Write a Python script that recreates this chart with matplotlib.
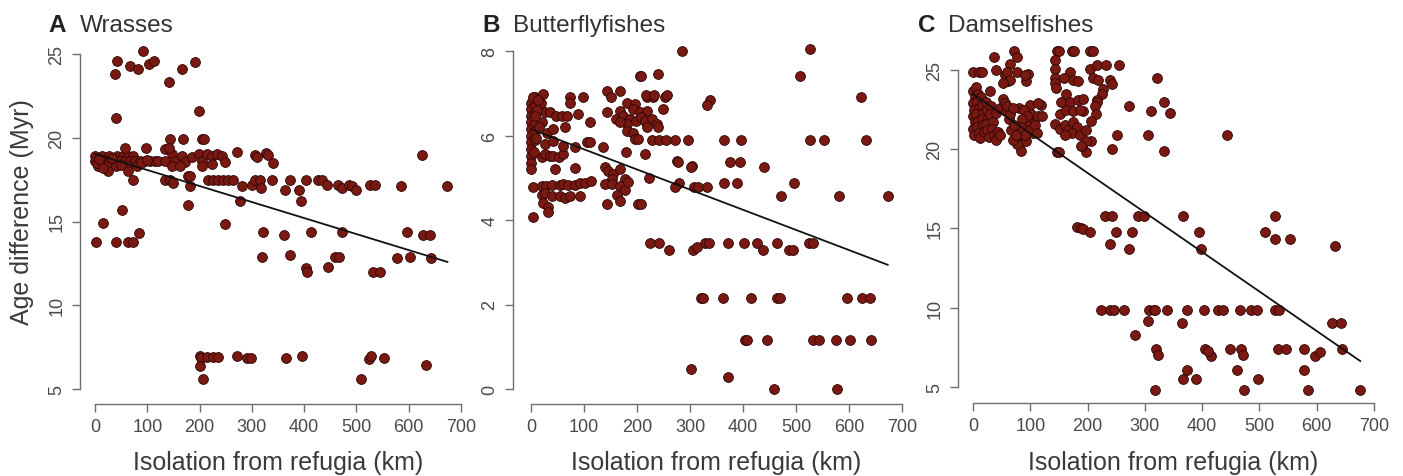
import numpy as np
import matplotlib
matplotlib.use("Agg")
import matplotlib.pyplot as plt

plt.rcParams["font.family"] = ["Liberation Sans", "DejaVu Sans"]

# ---------------------------------------------------------------------------
# Data: (isolation km, age difference Myr)
# ---------------------------------------------------------------------------

WRASSES = [
    (38, 23.8), (43, 24.6), (40, 21.2), (67, 24.3), (83, 24.1), (91, 25.2),
    (104, 24.4), (112, 24.6), (142, 23.3), (166, 24.1), (191, 24.5), (198, 21.6),
    # dense band near 0-120 km
    (0, 18.93), (13, 18.93), (26, 18.93), (42, 18.93), (54, 18.93), (64, 18.93), (73, 18.93),
    (0, 18.63), (10, 18.63), (19, 18.63), (29, 18.63), (38, 18.63), (48, 18.63), (57, 18.63),
    (67, 18.63), (76, 18.63), (86, 18.63), (96, 18.63), (105, 18.63), (115, 18.63),
    (6, 18.33), (22, 18.33), (41, 18.33), (64, 18.33), (80, 18.33), (25, 18.03), (64, 18.03),
    (57, 19.4), (97, 19.4), (3, 18.5), (8, 18.75), (16, 18.2), (33, 18.8), (50, 18.4),
    (88, 18.5), (100, 18.7), (120, 18.6),
    # cluster 130-270 km
    (134, 19.33), (147, 19.03), (134, 18.63), (153, 18.63), (166, 18.93), (172, 18.53),
    (185, 18.83), (198, 19.03), (204, 18.63), (214, 19.03), (223, 18.93), (233, 19.03),
    (242, 18.93), (249, 18.53), (271, 19.13), (147, 18.33), (163, 18.33), (204, 18.33),
    (223, 18.43), (143, 19.9), (168, 19.9), (204, 19.9), (209, 19.9), (142, 19.4),
    (306, 19.0), (309, 18.83), (328, 19.1), (331, 19.0), (341, 18.5),
    # around 17 Myr
    (73, 17.5), (134, 17.5), (143, 17.5), (149, 17.3), (178, 17.7), (182, 17.7), (181, 17.1),
    (177, 16.0), (217, 17.5), (226, 17.5), (236, 17.5), (245, 17.5), (255, 17.5), (264, 17.5),
    (277, 16.2), (282, 17.1), (300, 17.2), (306, 17.5), (315, 17.5), (318, 17.0), (338, 17.5),
    (363, 16.9), (372, 17.5), (390, 16.9), (394, 16.2), (403, 17.5), (427, 17.5), (434, 17.5),
    (443, 17.2), (465, 17.2), (472, 17.0), (485, 17.2), (492, 17.1), (499, 16.9), (526, 17.2),
    (535, 17.2), (585, 17.1), (674, 17.1), (625, 19.0),
    # 12-16 Myr
    (2, 13.75), (16, 14.9), (40, 13.8), (52, 15.7), (64, 13.8), (73, 13.8), (84, 14.3),
    (249, 14.85), (322, 14.35), (319, 12.9), (362, 14.2), (372, 13.0), (404, 12.2), (406, 12.0),
    (414, 14.35), (446, 12.3), (459, 12.9), (467, 12.9), (472, 14.35), (532, 12.0), (545, 12.0),
    (577, 12.8), (596, 14.35), (602, 12.9), (627, 14.2), (641, 14.2), (643, 12.8),
    # lowest row
    (200, 6.95), (202, 6.85), (200, 6.4), (206, 5.6), (214, 6.9), (225, 6.9), (235, 6.9),
    (272, 6.95), (290, 6.85), (298, 6.85), (365, 6.85), (395, 6.95), (508, 5.6), (525, 6.8),
    (527, 6.95), (553, 6.85), (633, 6.45),
]

BUTTERFLYFISHES = [
    # column at ~0 km
    (0, 6.78), (0, 6.63), (0, 6.47), (0, 6.31), (0, 6.15), (0, 5.99), (0, 5.84), (0, 5.68),
    (0, 5.52), (0, 5.36), (0, 5.2), (3, 4.77), (3, 4.07),
    (7, 6.9), (7, 6.7), (7, 6.5), (7, 6.3), (7, 6.1), (7, 5.9),
    (23, 6.98), (19, 6.78), (26, 6.55), (20, 6.31), (30, 6.07),
    (12, 6.6), (15, 6.2), (10, 5.95), (5, 5.6), (8, 6.45), (3, 6.9), (14, 6.85),
    (36, 6.55), (48, 6.47), (58, 6.47), (67, 6.47), (42, 6.15), (64, 6.19),
    (74, 6.9), (74, 6.78), (99, 6.9), (89, 6.5), (111, 6.31),
    (20, 5.5), (26, 5.57), (36, 5.52), (42, 5.52), (52, 5.5), (60, 5.57), (61, 5.75),
    (26, 5.8), (42, 5.88), (83, 5.72), (105, 5.85), (111, 5.85), (136, 5.72),
    (45, 5.2), (83, 5.22),
    (20, 4.8), (29, 4.8), (39, 4.83), (55, 4.83), (61, 4.85), (70, 4.83), (83, 4.83),
    (92, 4.87), (102, 4.87), (114, 4.92),
    (20, 4.6), (26, 4.65), (39, 4.56), (55, 4.56), (64, 4.52), (74, 4.56), (92, 4.56),
    (23, 4.4), (32, 4.3), (33, 4.2),
    # 140-210 km lower cluster
    (140, 5.25), (146, 5.17), (155, 5.1), (168, 5.2), (177, 4.97), (152, 4.97), (140, 4.85),
    (152, 4.85), (168, 4.8), (162, 4.58), (168, 4.46), (143, 4.38), (177, 4.7), (183, 4.9),
    (202, 4.38), (208, 4.38),
    # 140-300 km upper cluster
    (143, 7.06), (168, 7.06), (150, 6.9), (181, 6.78), (196, 6.75), (168, 6.59), (143, 6.55),
    (193, 6.63), (206, 6.55), (218, 6.59), (161, 6.39), (174, 6.47), (187, 6.39), (181, 6.27),
    (168, 6.31), (199, 6.35), (208, 6.43), (215, 6.35), (228, 6.39), (237, 6.27), (249, 6.63),
    (218, 6.19), (181, 6.11), (193, 6.07), (196, 5.91), (202, 5.91), (218, 6.9), (231, 6.9),
    (253, 6.9), (240, 6.2), (275, 5.4), (303, 5.28), (180, 5.6), (215, 5.56),
    (285, 8.0), (526, 8.05), (508, 7.42), (205, 7.42), (207, 7.42), (240, 7.45), (623, 6.92),
    (217, 6.96), (233, 6.96), (257, 6.96), (338, 6.85), (332, 6.73),
    (228, 5.9), (241, 5.9), (255, 5.9), (272, 5.9), (296, 5.9), (365, 5.9), (396, 5.9),
    (526, 5.9), (553, 5.9), (632, 5.9),
    (277, 5.38), (302, 5.26), (375, 5.37), (394, 5.38), (440, 5.26),
    (280, 4.88), (272, 4.78), (307, 4.78), (315, 4.78), (332, 4.78), (365, 4.88), (389, 4.88),
    (496, 4.88), (472, 4.57), (582, 4.57), (673, 4.57), (223, 4.99),
    (225, 3.45), (241, 3.45), (329, 3.45), (336, 3.45), (371, 3.45), (401, 3.45), (426, 3.45),
    (464, 3.45), (524, 3.45), (533, 3.45),
    (261, 3.3), (306, 3.3), (313, 3.35), (437, 3.3), (486, 3.3), (494, 3.3),
    (320, 2.15), (324, 2.15), (362, 2.15), (415, 2.15), (464, 2.15), (470, 2.15), (596, 2.15),
    (625, 2.15), (639, 2.15),
    (403, 1.15), (408, 1.15), (445, 1.15), (533, 1.15), (543, 1.15), (576, 1.15), (601, 1.15),
    (642, 1.15),
    (302, 0.47), (371, 0.29), (458, 0.0), (577, 0.0),
]

DAMSELFISHES = [
    (72, 26.2), (76, 25.8), (64, 25.4), (36, 25.85), (40, 25.0), (0, 24.85), (11, 24.85),
    (15, 24.85), (55, 24.7), (61, 24.3), (59, 24.85), (65, 24.4), (76, 24.9), (96, 24.75),
    (92, 24.3), (91, 24.7), (53, 24.2),
    (146, 26.2), (150, 26.2), (172, 26.2), (176, 26.2), (205, 26.2), (210, 26.2),
    (143, 25.6), (143, 25.05), (143, 24.5), (143, 24.2), (145, 23.85),
    (169, 24.85), (175, 24.4), (184, 24.3), (159, 24.5),
    (204, 25.05), (216, 25.3), (233, 25.3), (254, 25.3),
    (210, 24.5), (219, 24.4), (239, 24.4), (242, 24.1), (227, 23.8), (226, 23.5), (217, 23.1),
    (216, 23.0), (213, 22.7),
    (322, 24.5), (273, 22.7), (311, 22.4), (334, 23.0), (344, 22.3), (305, 20.9), (443, 20.9),
    (334, 19.9), (242, 20.0), (251, 20.9), (198, 19.8), (191, 20.2), (146, 19.8), (150, 19.8),
    (206, 20.5), (192, 22.4), (215, 22.2), (206, 21.8),
    (163, 23.5), (154, 23.0), (169, 23.0), (184, 23.1), (192, 23.2), (151, 22.2), (163, 22.5),
    (175, 22.4), (187, 22.5),
    (143, 21.6), (152, 21.3), (160, 21.5), (165, 21.2), (175, 21.7), (182, 21.4), (172, 21.0),
    (186, 20.9), (198, 21.2), (160, 20.9), (198, 20.5), (189, 20.2),
    (100, 21.6), (104, 22.0), (119, 22.8), (100, 22.8), (104, 21.0), (114, 22.9), (102, 22.2),
    (114, 22.1), (120, 22.1),
    (84, 21.2), (84, 20.4), (89, 20.9), (84, 19.9), (93, 20.5), (80, 22.6), (89, 22.5),
    (94, 22.1), (85, 21.9), (83, 21.4), (99, 21.2), (108, 21.5), (91, 20.9), (76, 20.3),
    (111, 21.0),
    # dense cluster near 0-75 km
    (0, 23.7), (3, 23.3), (0, 22.9), (2, 22.5), (0, 22.1), (3, 21.7), (0, 21.3), (2, 20.9),
    (5, 23.9), (8, 23.5), (7, 23.0), (10, 22.6), (6, 22.2), (9, 21.8), (7, 21.4), (10, 21.0),
    (12, 20.7), (14, 23.3), (16, 22.8), (18, 22.3), (15, 21.9), (17, 21.5), (19, 21.1),
    (22, 23.0), (24, 22.5), (26, 22.0), (22, 21.6), (25, 21.2), (28, 20.8), (30, 23.7),
    (32, 22.7), (30, 22.2), (35, 21.7), (33, 21.3), (36, 20.9), (40, 20.6), (40, 22.3),
    (43, 21.1), (47, 20.9), (48, 22.6), (52, 23.2), (55, 22.9), (58, 22.4), (60, 22.7),
    (62, 21.9), (65, 22.2), (70, 22.6), (66, 21.2), (72, 21.5), (70, 20.6), (75, 20.9),
    # middle
    (181, 15.1), (188, 15.0), (192, 14.97), (205, 14.8), (230, 15.8), (242, 15.8), (250, 14.8),
    (239, 14.0), (278, 14.8), (273, 13.7), (288, 15.8), (298, 15.8), (367, 15.8), (395, 14.8),
    (398, 13.7), (510, 14.8), (527, 15.8), (527, 14.35), (554, 14.35), (632, 13.9),
    (224, 9.85), (239, 9.85), (246, 9.85), (263, 9.85), (307, 9.85), (316, 9.85), (318, 9.85),
    (338, 9.85), (373, 9.85), (404, 9.85), (427, 9.85), (437, 9.85), (466, 9.85), (485, 9.85),
    (495, 9.85), (527, 9.85), (535, 9.85),
    (305, 9.14), (364, 9.05), (626, 9.05), (642, 9.05), (282, 8.25),
    (320, 7.4), (405, 7.4), (448, 7.4), (468, 7.4), (533, 7.4), (547, 7.4), (578, 7.4), (645, 7.4),
    (323, 7.0), (416, 6.95), (472, 7.0), (597, 6.95), (605, 7.2), (410, 7.3),
    (373, 6.1), (460, 6.1), (578, 6.1), (366, 5.5), (390, 5.5), (498, 5.5),
    (317, 4.8), (473, 4.8), (584, 4.8), (676, 4.8),
]

# fitted regression lines: (intercept, slope per km)
FIT_WRASSES = (19.03, -0.00956)
FIT_BUTTERFLY = (6.15, -0.00477)
FIT_DAMSEL = (23.49, -0.02493)

X_TICKS = [0, 100, 200, 300, 400, 500, 600, 700]
Y_TICKS_A = [5, 10, 15, 20, 25]
Y_TICKS_B = [0, 2, 4, 6, 8]
Y_TICKS_C = [5, 10, 15, 20, 25]

LETTERS = ["A", "B", "C"]
NAMES = ["Wrasses", "Butterflyfishes", "Damselfishes"]

# ---------------------------------------------------------------------------
# Layout (pixel coordinates of the 1403x477 canvas)
# ---------------------------------------------------------------------------
W, H = 1403, 477
AXIS_GREY = "#6e6e6e"
TEXT_GREY = "#4a4a4a"
FILL = "#7a1812"
EDGE = "#2b0705"

# box = (left, top, right, bottom); xpix/ypix = pixel of first/last tick
LAYOUT = [
    dict(box=(80, 38, 462, 405), xpix=(95, 461), ypix=(390, 55), title_x=(48, 80)),
    dict(box=(513, 38, 903, 405), xpix=(531, 902), ypix=(390, 52), title_x=(482, 513)),
    dict(box=(958, 38, 1375, 404), xpix=(973, 1374), ypix=(388, 71), title_x=(918, 948)),
]


def make_axes(fig, lay, xt, yt):
    left, top, right, bottom = lay["box"]
    ax = fig.add_axes([left / W, 1 - bottom / H, (right - left) / W, (bottom - top) / H])
    x0, x1 = lay["xpix"]
    sx = (xt[-1] - xt[0]) / (x1 - x0)
    ax.set_xlim(xt[0] + (left - x0) * sx, xt[0] + (right - x0) * sx)
    y0, y1 = lay["ypix"]
    sy = (yt[-1] - yt[0]) / (y0 - y1)
    ax.set_ylim(yt[0] - (bottom - y0) * sy, yt[0] + (y0 - top) * sy)
    return ax


fig = plt.figure(figsize=(W / 100, H / 100), dpi=100)

datasets = [WRASSES, BUTTERFLYFISHES, DAMSELFISHES]
fits = [FIT_WRASSES, FIT_BUTTERFLY, FIT_DAMSEL]
yticks = [Y_TICKS_A, Y_TICKS_B, Y_TICKS_C]

for i, lay in enumerate(LAYOUT):
    pts = np.array(datasets[i], dtype=float)
    ax = make_axes(fig, lay, X_TICKS, yticks[i])

    ax.scatter(pts[:, 0], pts[:, 1], s=50, c=FILL, edgecolors=EDGE,
               linewidths=0.6, zorder=2, clip_on=False)
    a, b = fits[i]
    xs = np.array([pts[:, 0].min(), pts[:, 0].max()])
    ax.plot(xs, a + b * xs, color="#111111", lw=1.3, zorder=3)

    for side in ("top", "right"):
        ax.spines[side].set_visible(False)
    for side in ("left", "bottom"):
        ax.spines[side].set_color(AXIS_GREY)
        ax.spines[side].set_linewidth(1.0)
    ax.spines["bottom"].set_bounds(X_TICKS[0], X_TICKS[-1])
    ax.spines["left"].set_bounds(yticks[i][0], yticks[i][-1])

    ax.set_xticks(X_TICKS)
    ax.set_yticks(yticks[i])
    ax.set_yticklabels([str(v) for v in yticks[i]], rotation=90, va="center")
    ax.tick_params(direction="out", length=5.5, width=1.0, color=AXIS_GREY,
                   labelcolor=TEXT_GREY, labelsize=13)
    ax.tick_params(axis="x", pad=4.3)
    ax.tick_params(axis="y", pad=5)
    ax.patch.set_alpha(0)

    # x label centred under the tick range
    xc = (lay["xpix"][0] + lay["xpix"][1]) / 2
    fig.text(xc / W, 1 - 470 / H, "Isolation from refugia (km)", ha="center",
             va="baseline", fontsize=18, color="#3a3a3a")

    # panel title
    lx, nx = lay["title_x"]
    fig.text(lx / W, 1 - 32 / H, LETTERS[i], ha="left", va="baseline",
             fontsize=17.5, fontweight="bold", color="#222222")
    fig.text(nx / W, 1 - 32 / H, NAMES[i], ha="left", va="baseline",
             fontsize=17.5, color="#333333")

fig.text(22 / W, 1 - 212 / H, "Age difference (Myr)", rotation=90, ha="center",
         va="center", fontsize=18, color="#3a3a3a")

fig.savefig("out.png", dpi=100, facecolor="white")
